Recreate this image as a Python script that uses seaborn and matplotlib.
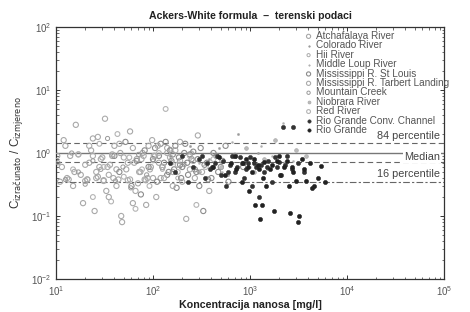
import matplotlib
matplotlib.use("Agg")
import matplotlib.pyplot as plt
import seaborn as sns
import pandas as pd

sns.set_style("ticks")
plt.rcParams['font.family'] = ['Liberation Sans', 'DejaVu Sans']

# ---- data ----
atch_x = [11, 12, 13, 14, 15, 16, 18, 19, 21, 23, 25, 27, 30, 33, 36, 40, 44, 48, 53, 58, 64, 70, 78, 85, 95, 105, 120, 140, 160, 190,
          10.3, 11.5, 12.5, 13.5, 15.5, 17, 20, 22, 24, 26, 28, 31, 35, 38, 42, 46, 55, 62, 68, 74, 82, 90, 100, 115]
atch_y = [0.35, 1.6, 0.4, 0.9, 0.3, 2.8, 0.45, 0.16, 0.38, 1.1, 0.12, 0.42, 0.85, 0.25, 0.65, 1.3, 0.38, 0.08, 0.55, 2.2, 0.7, 0.33, 1.0, 0.15, 0.6, 0.9, 0.4, 1.2, 0.5, 0.75,
          0.9, 0.6, 1.3, 0.38, 0.5, 0.95, 0.36, 0.7, 1.7, 0.4, 0.6, 0.37, 0.2, 0.9, 0.55, 1.0, 0.37, 0.16, 0.8, 0.5, 0.38, 1.3, 0.4, 0.7]

colo_x = [150, 190, 240, 300, 380, 480, 600, 750, 950, 1200, 1500]
colo_y = [0.9, 0.6, 1.3, 0.5, 0.8, 1.2, 0.45, 2.0, 0.7, 1.0, 0.55]

hii_x = [100, 125, 150, 180, 210, 250, 300]
hii_y = [0.75, 0.55, 1.15, 0.4, 0.65, 1.0, 0.5]

mloup_x = [300, 400, 520, 650, 800, 1000, 1300, 1700, 2200, 2800]
mloup_y = [0.7, 1.0, 0.5, 1.5, 0.85, 0.6, 1.3, 0.9, 3.0, 0.75]

msl_x = [40, 45, 52, 60, 68, 75, 82, 90, 100, 110, 120, 130, 145, 160, 175, 190, 210, 230, 250, 270, 300, 330, 360, 400, 450, 500, 560,
         105, 115, 125, 135, 140, 150, 155, 165, 170, 185, 195, 200, 215, 225, 240, 260, 280, 290, 310, 340, 370, 420, 470, 520, 600, 700, 850]
msl_y = [0.9, 0.5, 1.5, 0.3, 0.75, 0.22, 1.1, 0.6, 0.8, 0.35, 1.4, 0.7, 0.5, 0.95, 0.28, 0.65, 1.0, 0.45, 0.8, 0.55, 0.3, 0.12, 0.7, 0.4, 0.9, 0.6, 1.3,
         1.2, 0.9, 0.6, 1.5, 0.45, 1.1, 0.75, 0.55, 1.3, 0.85, 0.4, 0.6, 1.4, 0.7, 0.95, 1.05, 0.5, 0.8, 1.2, 0.65, 0.38, 1.0, 0.5, 0.75, 0.35, 0.9, 0.6]

mtl_x = [20, 22, 26, 29, 32, 35, 38, 42, 47, 55, 62, 72, 80, 88, 98, 108, 125, 150, 170, 200, 220, 260, 290, 320, 380,
         21, 24, 27, 31, 34, 39, 45, 50, 58, 66, 76, 84, 93, 102, 112, 130, 140, 160, 180, 190, 240, 270]
mtl_y = [0.65, 1.3, 0.5, 0.8, 3.5, 0.45, 0.95, 0.3, 0.1, 0.7, 1.2, 0.5, 0.9, 0.4, 1.6, 0.2, 0.6, 0.85, 1.1, 0.35, 0.09, 0.75, 1.9, 0.5, 0.25,
         0.38, 0.9, 1.8, 0.36, 0.6, 0.4, 1.4, 0.85, 0.38, 0.25, 0.8, 0.37, 0.55, 0.9, 1.3, 0.4, 1.0, 0.3, 0.65, 1.5, 0.55, 0.4]

mcreek_x = [10.5, 12.5, 14.5, 17, 20, 24, 29, 34, 41, 49, 59, 71, 86]
mcreek_y = [0.7, 0.38, 1.0, 0.5, 0.32, 0.75, 0.55, 1.7, 0.36, 0.6, 0.28, 0.95, 0.45]

niob_x = [500, 700, 900, 1100, 1400, 1800, 2300, 3000, 3800]
niob_y = [0.6, 0.9, 1.2, 0.5, 0.8, 1.6, 0.7, 1.1, 0.9]

red_x = [15, 17, 24, 28, 31, 37, 43, 50, 57, 66, 77, 92, 115, 135, 155, 180, 240, 280, 350, 420]
red_y = [0.55, 0.95, 0.2, 1.4, 0.6, 0.17, 2.0, 0.42, 0.85, 0.13, 0.55, 0.3, 1.0, 5.0, 0.7, 0.5, 0.9, 0.15, 0.6, 0.8]

rgcc_x = [150, 170, 200, 230, 260, 300, 340, 390, 440, 500, 560, 620, 700, 780, 860, 950, 1050, 1150, 1250, 1400, 1550, 1700, 1900, 2100, 2200, 2400, 2700, 2800, 3100, 3600,
          320, 360, 410, 460, 530, 600, 660, 740, 820, 900, 1000, 1100, 1300, 1500, 1800, 2000, 2300]
rgcc_y = [0.7, 0.5, 0.9, 0.35, 0.6, 0.8, 0.4, 0.55, 0.7, 0.45, 0.3, 0.65, 0.5, 0.85, 0.4, 0.7, 0.3, 0.6, 0.2, 0.5, 0.75, 0.35, 0.6, 0.45, 2.6, 0.9, 0.55, 2.6, 0.7, 0.5,
          0.9, 0.7, 0.6, 0.9, 0.75, 0.5, 0.9, 0.6, 0.7, 0.55, 0.85, 0.7, 0.65, 0.6, 0.85, 0.72, 0.65]

rg_x = [420, 480, 550, 630, 720, 820, 900, 980, 1050, 1120, 1200, 1280, 1330, 1350, 1450, 1600, 1750, 1900, 2050, 2250, 2500, 2600, 2800, 3100, 3200, 3600, 4200, 4400, 5000, 5900,
        700, 850, 950, 1100, 1250, 1400, 1700, 2000, 2400, 2700, 3000, 3400, 3800, 4600, 5400]
rg_y = [0.6, 0.85, 0.45, 0.7, 0.55, 0.35, 0.8, 0.25, 0.5, 0.15, 0.65, 0.09, 0.15, 0.4, 0.3, 0.55, 0.12, 0.75, 0.45, 0.6, 0.3, 0.11, 0.5, 0.08, 0.1, 0.55, 0.7, 0.28, 0.4, 0.35,
        0.9, 0.7, 0.6, 0.8, 0.55, 0.72, 0.65, 0.9, 0.75, 0.6, 0.36, 0.8, 0.36, 0.3, 0.62]

series_names = ["Atchafalaya River", "Colorado River", "Hii River", "Middle Loup River",
                "Mississippi R. St Louis", "Mississippi R. Tarbert Landing", "Mountain Creek",
                "Niobrara River", "Red River", "Rio Grande Conv. Channel", "Rio Grande"]
series_x = [atch_x, colo_x, hii_x, mloup_x, msl_x, mtl_x, mcreek_x, niob_x, red_x, rgcc_x, rg_x]
series_y = [atch_y, colo_y, hii_y, mloup_y, msl_y, mtl_y, mcreek_y, niob_y, red_y, rgcc_y, rg_y]

p84 = 1.45
median = 1.0
mean_line = 0.72
p16 = 0.35

styles = {
    "Atchafalaya River": dict(marker="o", s=14, facecolor="none", edgecolor="#a8a8a8", linewidth=0.8),
    "Colorado River": dict(marker=".", s=10, facecolor="#9a9a9a", edgecolor="#9a9a9a", linewidth=0.3),
    "Hii River": dict(marker="o", s=8, facecolor="none", edgecolor="#aaaaaa", linewidth=0.7),
    "Middle Loup River": dict(marker=".", s=8, facecolor="#b0b0b0", edgecolor="#b0b0b0", linewidth=0.3),
    "Mississippi R. St Louis": dict(marker="o", s=14, facecolor="none", edgecolor="#8c8c8c", linewidth=0.8),
    "Mississippi R. Tarbert Landing": dict(marker="o", s=14, facecolor="none", edgecolor="#ababab", linewidth=0.8),
    "Mountain Creek": dict(marker="o", s=9, facecolor="none", edgecolor="#9a9a9a", linewidth=0.7),
    "Niobrara River": dict(marker="o", s=7, facecolor="#bbbbbb", edgecolor="#aaaaaa", linewidth=0.5),
    "Red River": dict(marker="o", s=12, facecolor="none", edgecolor="#b4b4b4", linewidth=0.8),
    "Rio Grande Conv. Channel": dict(marker="o", s=9, facecolor="#333333", edgecolor="#333333", linewidth=0.4),
    "Rio Grande": dict(marker="o", s=9, facecolor="#222222", edgecolor="#222222", linewidth=0.4),
}

rows = []
for name, xs, ys in zip(series_names, series_x, series_y):
    for a, b in zip(xs, ys):
        rows.append((name, a, b))
df = pd.DataFrame(rows, columns=["serija", "konc", "omjer"])

fig = plt.figure(figsize=(4.7, 3.12), dpi=100)
ax = fig.add_axes([56/470, 33/312, 388/470, 252/312])

for name in series_names:
    st = styles[name]
    sub = df[df.serija == name]
    sns.scatterplot(data=sub, x="konc", y="omjer", ax=ax, label=name,
                    marker=st["marker"], s=st["s"], facecolor=st["facecolor"],
                    edgecolor=st["edgecolor"], linewidth=st["linewidth"], zorder=3)

ax.set_xscale("log")
ax.set_yscale("log")
ax.set_xlim(10, 1e5)
ax.set_ylim(1e-2, 1e2)

ax.axhline(p84, color="#666666", lw=0.8, ls=(0, (5, 3)), zorder=2)
ax.axhline(median, color="#777777", lw=1.0, ls="-", zorder=2)
ax.axhline(mean_line, color="#666666", lw=0.8, ls=(0, (5, 3)), zorder=2)
ax.axhline(p16, color="#666666", lw=0.8, ls=(0, (6, 2, 2, 2)), zorder=2)

txtc = "#444444"
ax.text(0.99, p84 * 1.08, "84 percentile", transform=ax.get_yaxis_transform(),
        ha="right", va="bottom", fontsize=7.8, color=txtc, zorder=4)
ax.text(0.99, 0.86, "Median", transform=ax.get_yaxis_transform(),
        ha="right", va="center", fontsize=7.8, color=txtc, zorder=4,
        bbox=dict(facecolor="white", edgecolor="none", pad=0.5))
ax.text(0.99, p16 * 1.12, "16 percentile", transform=ax.get_yaxis_transform(),
        ha="right", va="bottom", fontsize=7.8, color=txtc, zorder=4)

ax.set_title("Ackers-White formula  \u2013  terenski podaci", fontsize=7.6, fontweight="bold",
             color="#222222", pad=6)
ax.set_xlabel("Koncentracija nanosa [mg/l]", fontsize=7.7, fontweight="bold", color="#222222", labelpad=2)
ax.set_ylabel(r"C$_{\mathrm{izračunato}}$ / C$_{\mathrm{izmjereno}}$", fontsize=8.5, color="#333333", labelpad=4)

ax.tick_params(which="both", direction="in", top=True, right=True, labelsize=7, colors="#333333",
               labelcolor="#555555")
ax.tick_params(which="major", length=3, width=0.7)
ax.tick_params(which="minor", length=1.8, width=0.5)
for sp in ax.spines.values():
    sp.set_linewidth(0.9)
    sp.set_color("#333333")

leg = ax.legend(loc="upper left", bbox_to_anchor=(0.62, 1.012), frameon=False, fontsize=7.2,
                labelspacing=-0.06, handletextpad=0.25, borderpad=0.2, handlelength=1.0,
                markerscale=0.8)
for t in leg.get_texts():
    t.set_color("#555555")

fig.savefig("out.png", dpi=100, facecolor="white")
